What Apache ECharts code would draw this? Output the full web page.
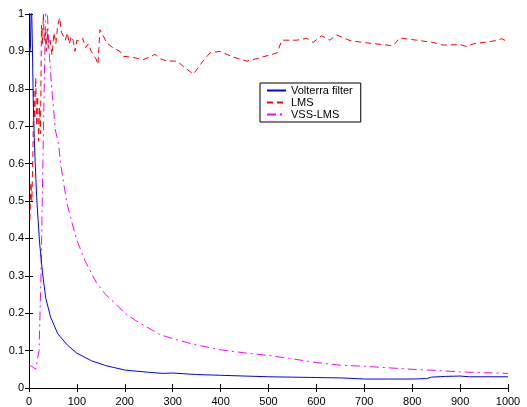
<!DOCTYPE html>
<html>
<head>
<meta charset="utf-8">
<script src="https://cdn.jsdelivr.net/npm/echarts@6/dist/echarts.min.js"></script>
<style>
  html, body { margin: 0; padding: 0; background: #fff; }
  #main { width: 527px; height: 407px; }
</style>
</head>
<body>
<div id="main"></div>
<script>
// 数据：[样本数, 值]
var seriesNames = ['Volterra filter', 'LMS', 'VSS-LMS'];

var volterra = [
  [0, 0.89], [2, 0.9], [3, 0.91], [5, 1.05], [7, 0.92], [9, 0.76], [11, 0.67],
  [13, 0.6], [16, 0.51], [19, 0.45], [22, 0.39], [28, 0.31], [35, 0.24],
  [45, 0.19], [60, 0.145], [80, 0.115], [100, 0.093], [130, 0.073], [160, 0.06],
  [200, 0.048], [250, 0.042], [280, 0.039], [300, 0.04], [350, 0.036],
  [400, 0.034], [450, 0.032], [500, 0.03], [550, 0.029], [600, 0.028],
  [650, 0.027], [700, 0.024], [750, 0.024], [800, 0.024], [830, 0.025],
  [840, 0.029], [870, 0.031], [900, 0.032], [920, 0.03], [1000, 0.03]
];

var lms = [
  [2, 0.45], [4, 0.55], [6, 0.5], [8, 0.62], [10, 0.8], [12, 0.72], [14, 0.83],
  [16, 0.7], [18, 0.78], [20, 0.66], [22, 0.75], [24, 0.68], [26, 0.97],
  [28, 0.92], [30, 1.0], [32, 0.93], [34, 0.95], [36, 0.9], [38, 0.96],
  [40, 0.91], [44, 0.93], [48, 0.89], [52, 0.95], [56, 0.92], [60, 0.97],
  [64, 0.99], [68, 0.95], [72, 0.94], [76, 0.93], [80, 0.95], [84, 0.92],
  [88, 0.94], [92, 0.93], [96, 0.9], [100, 0.93], [106, 0.927], [112, 0.935],
  [118, 0.91], [124, 0.92], [130, 0.9], [134, 0.897], [140, 0.88], [144, 0.865],
  [148, 0.958], [152, 0.95], [162, 0.923], [175, 0.91], [190, 0.9], [197, 0.887],
  [217, 0.884], [238, 0.878], [252, 0.885], [263, 0.892], [275, 0.88],
  [288, 0.874], [309, 0.874], [322, 0.86], [343, 0.839], [363, 0.874],
  [378, 0.896], [399, 0.9], [426, 0.885], [455, 0.874], [482, 0.883],
  [518, 0.896], [528, 0.93], [559, 0.93], [580, 0.935], [593, 0.924],
  [611, 0.942], [628, 0.93], [642, 0.944], [670, 0.929], [697, 0.924],
  [739, 0.918], [760, 0.915], [774, 0.936], [809, 0.93], [843, 0.924],
  [864, 0.917], [900, 0.918], [914, 0.913], [927, 0.92], [948, 0.924],
  [962, 0.926], [977, 0.93], [987, 0.934], [1000, 0.925]
];

var vsslms = [
  [0, 0.06], [3, 0.065], [6, 0.058], [10, 0.055], [14, 0.05], [18, 0.045],
  [21, 0.1], [23, 0.2], [25, 0.3], [27, 0.45], [29, 0.6], [31, 0.75],
  [33, 0.9], [35, 1.0], [38, 1.02], [40, 0.95], [43, 0.88], [47, 0.81],
  [55, 0.69], [62, 0.65], [66, 0.6], [72, 0.55], [80, 0.49], [89, 0.445],
  [100, 0.395], [117, 0.34], [131, 0.305], [141, 0.281], [160, 0.25],
  [183, 0.222], [200, 0.2], [223, 0.18], [250, 0.16], [275, 0.142],
  [313, 0.127], [350, 0.115], [400, 0.102], [450, 0.094], [500, 0.087],
  [550, 0.078], [600, 0.068], [650, 0.061], [700, 0.058], [750, 0.054],
  [800, 0.05], [850, 0.047], [900, 0.043], [950, 0.041], [1000, 0.039]
];

// 线型：颜色 + 虚线样式
var lineStyles = [
  { color: '#0000ff', width: 1, type: 'solid' },
  { color: '#ff0000', width: 1, type: [6, 4] },
  { color: '#ff00ff', width: 1, type: [9, 4, 2, 4] }
];

var myChart = echarts.init(document.getElementById('main'));

var axisFont = { color: '#000', fontFamily: 'Liberation Sans', fontSize: 11 };

myChart.setOption({
  animation: false,
  backgroundColor: '#fff',
  grid: { left: 29, right: 19, top: 14, bottom: 15 },
  legend: {
    orient: 'vertical',
    left: 260,
    top: 83,
    data: seriesNames,
    backgroundColor: '#fff',
    borderColor: '#000',
    borderWidth: 1,
    borderRadius: 0,
    padding: [2, 8, 2, 6],
    itemGap: 1,
    itemWidth: 19,
    itemHeight: 11,
    itemStyle: { opacity: 0 },
    textStyle: { color: '#000', fontFamily: 'Liberation Sans', fontSize: 11 }
  },
  xAxis: [{
    type: 'value', min: 0, max: 1000, interval: 100,
    axisLine: { lineStyle: { color: '#000', width: 1 } },
    axisTick: { inside: true, length: 4, lineStyle: { color: '#000' } },
    axisLabel: Object.assign({ formatter: function (v) { return String(v); } }, axisFont),
    splitLine: { show: false }
  }, {
    type: 'value', min: 0, max: 1000, interval: 100, position: 'top',
    axisLine: { lineStyle: { color: '#000', width: 1 } },
    axisTick: { inside: true, length: 4, lineStyle: { color: '#000' } },
    axisLabel: { show: false },
    splitLine: { show: false }
  }],
  yAxis: [{
    type: 'value', min: 0, max: 1, interval: 0.1,
    axisLine: { show: true, lineStyle: { color: '#000', width: 1 } },
    axisTick: { show: true, inside: true, length: 4, lineStyle: { color: '#000' } },
    axisLabel: Object.assign({ margin: 5 }, axisFont),
    splitLine: { show: false }
  }, {
    type: 'value', min: 0, max: 1, interval: 0.1, position: 'right',
    axisLine: { show: true, lineStyle: { color: '#000', width: 1 } },
    axisTick: { show: true, inside: true, length: 4, lineStyle: { color: '#000' } },
    axisLabel: { show: false },
    splitLine: { show: false }
  }],
  series: [{
    name: seriesNames[0], type: 'line', data: volterra, symbol: 'none',
    color: lineStyles[0].color, lineStyle: lineStyles[0], z: 3
  }, {
    name: seriesNames[1], type: 'line', data: lms, symbol: 'none',
    color: lineStyles[1].color, lineStyle: lineStyles[1], z: 2
  }, {
    name: seriesNames[2], type: 'line', data: vsslms, symbol: 'none',
    color: lineStyles[2].color, lineStyle: lineStyles[2], z: 1
  }]
});
</script>
</body>
</html>
